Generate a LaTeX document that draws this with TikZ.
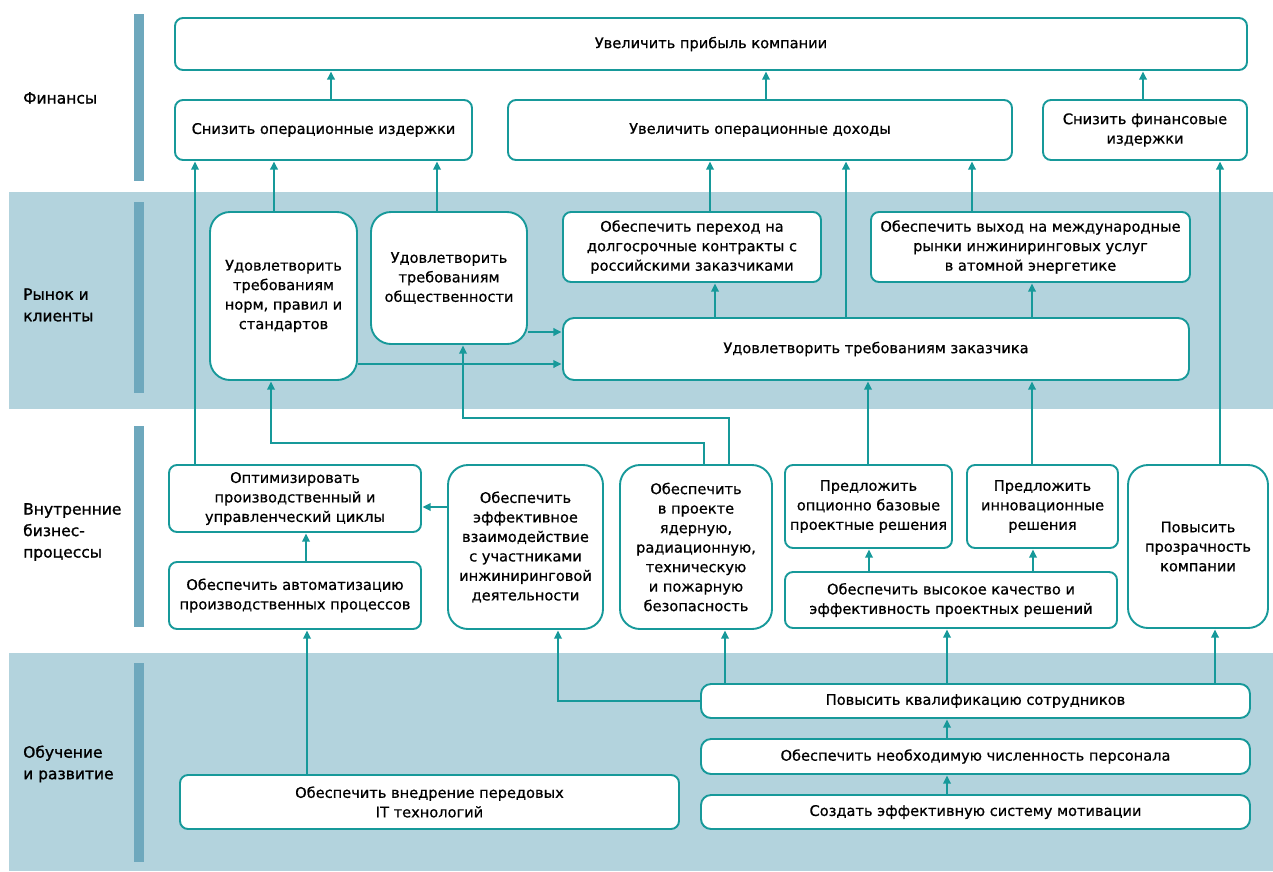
\documentclass[tikz,border=0pt]{standalone}
\usepackage{fontspec}
\setmainfont{DejaVu Sans}
\newfontfamily\goalfont{DejaVu Sans}[FakeBold=0.7]
\newfontfamily\lanefont{DejaVu Sans}[FakeBold=1.2]
\usetikzlibrary{arrows.meta}
\definecolor{teal0}{HTML}{17999A}
\definecolor{bandblue}{HTML}{B3D3DD}
\definecolor{barblue}{HTML}{6EA8BD}
\tikzset{
  box/.style={draw=teal0, line width=1.9pt, fill=white, rounded corners=8pt,
    inner sep=0pt, align=center, font=\goalfont\fontsize{14.6}{19.5}\selectfont},
  tallbox/.style={box, rounded corners=20pt},
  conn/.style={draw=teal0, line width=1.8pt},
  heavy/.style={line width=2.8pt},
  arr/.style={conn, -{Triangle[length=8pt,width=7.5pt]}, shorten >=0.6pt},
  lane/.style={anchor=west, align=left, inner sep=0pt,
    font=\lanefont\fontsize{15.5}{21.5}\selectfont},
}
% box given by its corners in pixel-like units
\newcommand\goal[7][box]{%
  \pgfmathsetmacro\bw{#4-#2}\pgfmathsetmacro\bh{#5-#3}%
  \pgfmathsetmacro\bcx{(#2+#4)/2}\pgfmathsetmacro\bcy{(#3+#5)/2}%
  \node[#1, minimum width=\bw pt, minimum height=\bh pt] (#6) at (\bcx,\bcy) {#7};}
\begin{document}
\begin{tikzpicture}[x=1pt, y=-1pt]
\useasboundingbox (0,0) rectangle (1273,871);
% perspective bands
\fill[bandblue] (9,192) rectangle (1273,409);
\fill[bandblue] (9,653) rectangle (1273,871);
\fill[barblue] (134,14) rectangle (144,181);
\fill[barblue] (134,202) rectangle (144,393);
\fill[barblue] (134,426) rectangle (144,627);
\fill[barblue] (134,663) rectangle (144,862);
\node[lane] (lf) at (23,98) {Финансы};
\node[lane] (lm) at (23,305) {Рынок и\\клиенты};
\node[lane] (li) at (23,532) {Внутренние\\бизнес-\\процессы};
\node[lane] (ll) at (23,764) {Обучение\\и развитие};
% finance
\goal{175}{18}{1247}{70}{n1}{Увеличить прибыль компании}
\goal{175}{100}{472}{160}{n2}{Снизить операционные издержки}
\goal{508}{100}{1012}{160}{n3}{Увеличить операционные доходы}
\goal{1043}{100}{1247}{160}{n4}{Снизить финансовые\\издержки}
% market and customers
\goal[tallbox]{210}{212}{357}{380}{n5}{Удовлетворить\\требованиям\\норм, правил и\\стандартов}
\goal[tallbox]{371}{212}{527}{344}{n6}{Удовлетворить\\требованиям\\общественности}
\goal{563}{212}{821}{282}{n7}{Обеспечить переход на\\долгосрочные контракты с\\российскими заказчиками}
\goal{871}{212}{1190}{282}{n8}{Обеспечить выход на международные\\рынки инжиниринговых услуг\\в атомной энергетике}
\goal[box, rounded corners=11pt]{563}{318}{1189}{380}{n9}{Удовлетворить требованиям заказчика}
% internal processes
\goal{169}{465}{421}{532}{n10}{Оптимизировать\\производственный и\\управленческий циклы}
\goal{169}{562}{421}{629}{n11}{Обеспечить автоматизацию\\производственных процессов}
\goal[tallbox]{448}{465}{603}{629}{n12}{Обеспечить\\эффективное\\взаимодействие\\с участниками\\инжиниринговой\\деятельности}
\goal[tallbox]{620}{465}{772}{629}{n13}{Обеспечить\\в проекте\\ядерную,\\радиационную,\\техническую\\и пожарную\\безопасность}
\goal{785}{465}{952}{548}{n14}{Предложить\\опционно базовые\\проектные решения}
\goal{967}{465}{1118}{548}{n15}{Предложить\\инновационные\\решения}
\goal{785}{572}{1117}{628}{n16}{Обеспечить высокое качество и\\эффективность проектных решений}
\goal[tallbox]{1128}{465}{1268}{628}{n17}{Повысить\\прозрачность\\компании}
% learning and growth
\goal[box, rounded corners=10pt]{701}{684}{1250}{718}{n18}{Повысить квалификацию сотрудников}
\goal[box, rounded corners=10pt]{701}{739}{1250}{774}{n19}{Обеспечить необходимую численность персонала}
\goal[box, rounded corners=10pt]{701}{795}{1250}{829}{n20}{Создать эффективную систему мотивации}
\goal{180}{775}{679}{829}{n21}{Обеспечить внедрение передовых\\IT технологий}
% links into the finance goals
\draw[arr, heavy] (n2.north -| 331,0) -- (n1.south -| 331,0);
\draw[arr] (n3.north -| 766,0) -- (n1.south -| 766,0);
\draw[arr] (n4.north -| 1143,0) -- (n1.south -| 1143,0);
\draw[arr] (n10.north -| 195,0) -- (n2.south -| 195,0);
\draw[arr, heavy] (n5.north -| 274,0) -- (n2.south -| 274,0);
\draw[arr] (n6.north -| 437,0) -- (n2.south -| 437,0);
\draw[arr] (n7.north -| 710,0) -- (n3.south -| 710,0);
\draw[arr, heavy] (n9.north -| 846,0) -- (n3.south -| 846,0);
\draw[arr] (n8.north -| 972,0) -- (n3.south -| 972,0);
\draw[arr, heavy] (n17.north -| 1220,0) -- (n4.south -| 1220,0);
% market links
\draw[arr, heavy] (n6.east |- 0,332) -- (n9.west |- 0,332);
\draw[arr] (n5.east |- 0,364) -- (n9.west |- 0,364);
\draw[arr] (n9.north -| 715,0) -- (n7.south -| 715,0);
\draw[arr] (n9.north -| 1032,0) -- (n8.south -| 1032,0);
\draw[arr] (n14.north -| 868,0) -- (n9.south -| 868,0);
\draw[arr] (n15.north -| 1032,0) -- (n9.south -| 1032,0);
\draw[arr] (n13.north -| 704,0) -- (704,443) -- (271,443) -- (n5.south -| 271,0);
\draw[arr] (n13.north -| 729,0) -- (729,418) -- (463,418) -- (n6.south -| 463,0);
% internal process links
\draw[arr] (n12.west |- 0,507) -- (n10.east |- 0,507);
\draw[arr] (n11.north -| 306,0) -- (n10.south -| 306,0);
\draw[arr] (n16.north -| 869,0) -- (n14.south -| 869,0);
\draw[arr] (n16.north -| 1033,0) -- (n15.south -| 1033,0);
% learning links
\draw[arr] (n21.north -| 307,0) -- (n11.south -| 307,0);
\draw[arr] (n18.west) -- (558,701) -- (n12.south -| 558,0);
\draw[arr] (n18.north -| 725,0) -- (n13.south -| 725,0);
\draw[arr] (n18.north -| 947,0) -- (n16.south -| 947,0);
\draw[arr] (n18.north -| 1215,0) -- (n17.south -| 1215,0);
\draw[arr] (n19.north -| 947,0) -- (n18.south -| 947,0);
\draw[arr] (n20.north -| 947,0) -- (n19.south -| 947,0);
\end{tikzpicture}
\end{document}
